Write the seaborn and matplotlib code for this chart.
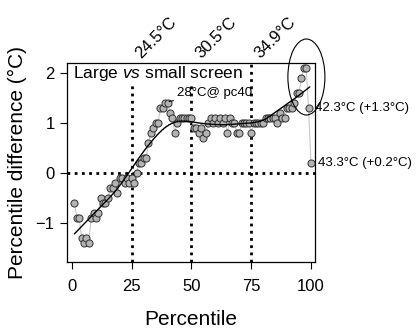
import numpy as np
import pandas as pd
import matplotlib
matplotlib.use("Agg")
import matplotlib.pyplot as plt
from matplotlib.patches import Ellipse, Rectangle
import seaborn as sns

# Percentile (1..100) and large-minus-small screen temperature difference (°C)
percentile = np.arange(1, 101)
difference = [
    -0.6, -0.9, -0.9, -1.3, -1.4, -1.3, -1.4, -0.9, -0.8, -0.9,
    -0.8, -0.5, -0.6, -0.6, -0.5, -0.3, -0.3, -0.2, -0.4, -0.1,
    -0.1, -0.2, -0.1, -0.2, -0.1, -0.2, 0.0, 0.2, 0.2, 0.3,
    0.3, 0.6, 0.8, 0.9, 1.0, 1.0, 1.3, 1.3, 1.4, 1.4,
    1.2, 1.1, 0.8, 1.0, 1.1, 1.1, 1.1, 1.1, 1.1, 1.1,
    0.9, 0.9, 0.8, 0.9, 0.7, 0.8, 1.0, 1.1, 1.0, 1.1,
    1.0, 1.1, 1.0, 1.1, 0.8, 1.1, 1.0, 1.0, 0.8, 0.8,
    1.0, 1.0, 1.0, 1.0, 0.8, 1.0, 1.0, 1.0, 1.0, 1.0,
    1.1, 1.1, 1.1, 1.1, 1.1, 1.0, 1.2, 1.1, 1.1, 1.3,
    1.3, 1.3, 1.4, 1.6, 1.6, 1.9, 2.1, 2.1, 1.3, 0.2,
]

# Reference percentiles with their small-screen temperatures
ref_pc = [25, 50, 75]
ref_labels = ["24.5°C", "30.5°C", "34.9°C"]

# Labelled top percentiles
top_pc = [99, 100]
top_labels = ["42.3°C (+1.3°C)", "43.3°C (+0.2°C)"]

xticks = [0, 25, 50, 75, 100]
yticks = [-1, 0, 1, 2]

df = pd.DataFrame({"percentile": percentile, "difference": difference})


def loess(x, y, x_eval, span=0.3, degree=1):
    """Local polynomial regression with tricube weights."""
    x = np.asarray(x, float)
    y = np.asarray(y, float)
    k = int(np.ceil(span * len(x)))
    fitted = []
    for x0 in x_eval:
        d = np.abs(x - x0)
        h = np.sort(d)[k - 1]
        w = np.clip(1 - (d / h) ** 3, 0, None) ** 3
        coefs = np.polyfit(x, y, degree, w=np.sqrt(w))
        fitted.append(np.polyval(coefs, x0))
    return np.array(fitted)


# Smooth trend, fitted without the outlying top percentile
fit_src = df[df["percentile"] <= 99]
grid = np.linspace(1, 99.5, 200)
trend = pd.DataFrame({
    "percentile": grid,
    "difference": loess(fit_src["percentile"], fit_src["difference"], grid,
                        span=0.38, degree=1),
})

sns.set_theme(style="white")
plt.rcParams["font.family"] = ["Liberation Sans", "DejaVu Sans"]
plt.rcParams["text.color"] = "black"
plt.rcParams["axes.labelcolor"] = "black"
plt.rcParams["xtick.color"] = "black"
plt.rcParams["ytick.color"] = "black"
plt.rcParams["mathtext.fontset"] = "custom"
plt.rcParams["mathtext.it"] = "Liberation Sans:italic"
plt.rcParams["mathtext.rm"] = "Liberation Sans"

fig = plt.figure(figsize=(4.17, 3.32), dpi=100)
ax = fig.add_axes([0.1607, 0.2108, 0.5947, 0.5994])

ax.set_xlim(-2.1, 101.7)
ax.set_ylim(-1.78, 2.2)

# Reference lines
dot = (0, (1, 1.6))
for pc in ref_pc:
    ax.axvline(pc, color="black", lw=2, linestyle=dot, zorder=1)
ax.axhline(0, color="black", lw=2, linestyle=dot, zorder=1)

# Series: connecting line, points, smooth trend
sns.lineplot(data=df, x="percentile", y="difference", ax=ax,
             color="#c8c8c8", lw=0.8, zorder=2)
sns.scatterplot(data=df, x="percentile", y="difference", ax=ax,
                s=26, color="#b3b3b3", edgecolor="#303030", linewidth=0.7,
                zorder=3)
sns.lineplot(data=trend, x="percentile", y="difference", ax=ax,
             color="black", lw=1.0, zorder=4)

# Title block with white background
ax.add_patch(Rectangle((0, 0.895), 0.72, 0.105, transform=ax.transAxes,
                       facecolor="white", edgecolor="none", zorder=1.5))
ax.text(0.024, 0.945, "Large $\\it{vs}$ small screen", transform=ax.transAxes,
        fontsize=12.5, ha="left", va="center", zorder=6)

# Peak annotation
ax.annotate("28°C@ pc40", xy=(40.6, 1.43), xytext=(43.8, 1.6),
            fontsize=9.5, ha="left", va="center",
            arrowprops=dict(arrowstyle="-", color="black", lw=0.8,
                            shrinkA=0, shrinkB=0), zorder=6)

# Reference temperature labels above the panel
trans_top = matplotlib.transforms.blended_transform_factory(ax.transData, ax.transAxes)
for pc, lab in zip(ref_pc, ref_labels):
    ax.text(pc + 4.0, 1.022, lab, transform=trans_top, rotation=45,
            rotation_mode="anchor", ha="left", va="baseline",
            fontsize=12, clip_on=False)

# Labels for the highest percentiles
for pc, lab in zip(top_pc, top_labels):
    val = difference[pc - 1]
    ax.annotate(lab, xy=(pc, val), xytext=(5, 0), textcoords="offset points",
                fontsize=9.5, ha="left", va="center", annotation_clip=False)

# Ellipse around the top-percentile points
ax.add_patch(Ellipse((98.1, 1.92), 15.5, 1.52, fill=False, edgecolor="black",
                     lw=0.8, clip_on=False, zorder=6))

ax.set_xticks(xticks)
ax.set_yticks(yticks)
ax.tick_params(axis="both", labelsize=12, length=5, width=0.8,
               direction="out", color="black", left=True, bottom=True)
ax.tick_params(axis="x", pad=7)
ax.tick_params(axis="y", pad=4)
for s in ax.spines.values():
    s.set_color("black")
    s.set_linewidth(0.9)

ax.set_xlabel("Percentile", fontsize=15, labelpad=12)
ax.set_ylabel("Percentile difference (°C)", fontsize=15, labelpad=6)

fig.savefig("out.png", dpi=100)
